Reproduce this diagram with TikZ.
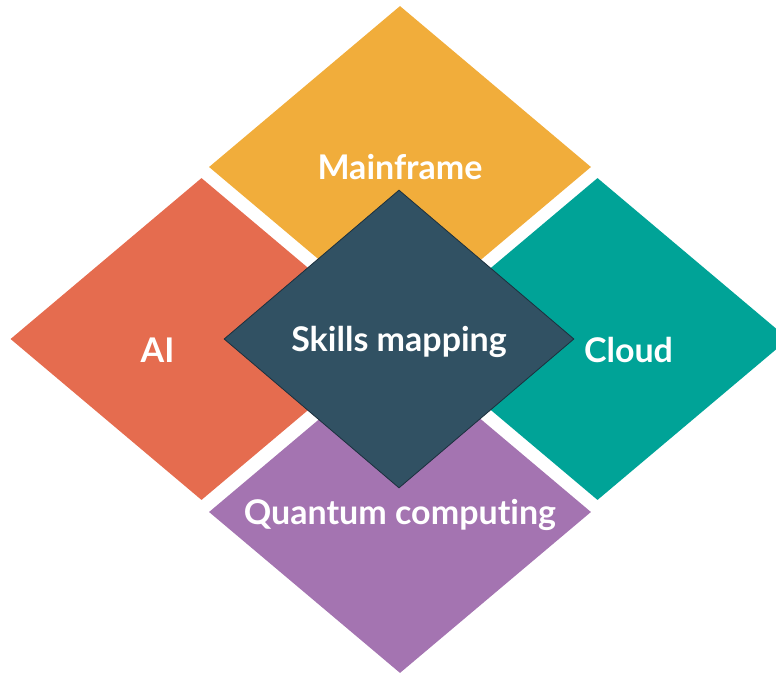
\documentclass[tikz,border=0pt]{standalone}
\usepackage{fontspec}
\setmainfont[Ligatures=NoCommon]{Lato}
\usepackage{tikz}
\usetikzlibrary{positioning, shapes.geometric}

\definecolor{mainframeC}{RGB}{241,173,59}
\definecolor{aiC}{RGB}{229,108,79}
\definecolor{cloudC}{RGB}{0,163,151}
\definecolor{quantumC}{RGB}{164,116,177}
\definecolor{skillsC}{RGB}{49,81,99}
\definecolor{skillsB}{RGB}{28,48,62}

\begin{document}
\begin{tikzpicture}[x=1pt, y=-1pt,
    petal/.style={diamond, draw=none, inner sep=0pt, minimum width=382pt, minimum height=322pt},
    hub/.style={diamond, draw=skillsB, line width=0.8pt, fill=skillsC, inner sep=0pt, minimum width=350pt, minimum height=298pt},
    txt/.style={text=white, font=\fontsize{34}{40}\selectfont\bfseries, inner sep=0pt}]

    \useasboundingbox (0,0) rectangle (776,674);

    % Nodes
    \node[petal, fill=mainframeC] (mainframe) at (400,167) {};
    \node[petal, fill=aiC] (ai) at (201.5,339) {};
    \node[petal, fill=cloudC] (cloud) at (597.5,339) {};
    \node[petal, fill=quantumC] (quantum) at (400,512) {};
    \node[hub] (skills) at (399,339) {};

    % Labels
    \node[txt] (mainframe-t) at (mainframe.center) {Mainframe};
    \node[txt] (ai-t) at ([shift={(-44,11)}]ai.center) {AI};
    \node[txt] (cloud-t) at ([shift={(31,11)}]cloud.center) {Cloud};
    \node[txt] (quantum-t) at ([shift={(0,3)}]quantum.center) {Quantum computing};
    \node[txt] (skills-t) at ([shift={(0,3)}]skills.center) {Skills mapping};

\end{tikzpicture}
\end{document}
